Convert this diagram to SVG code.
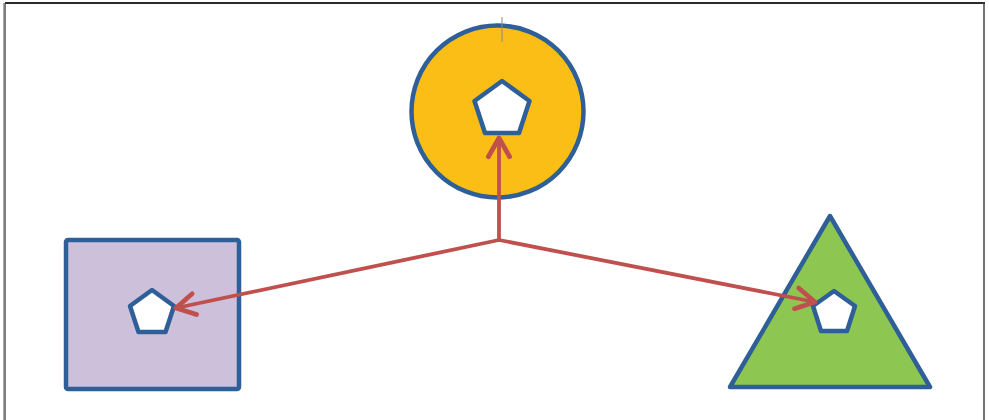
<svg xmlns="http://www.w3.org/2000/svg" width="989" height="420" viewBox="0 0 989 420">
<style>
.shape{stroke:#2f5f98;stroke-width:4.5;stroke-linejoin:round}
.pent{fill:#ffffff;stroke:#2f5f98;stroke-width:4.5;stroke-linejoin:round}
.conn{fill:none;stroke:#c0504d;stroke-width:3.8;stroke-linecap:round}
</style>
<defs>
<marker id="arr" markerUnits="userSpaceOnUse" markerWidth="30" markerHeight="30" viewBox="-20 -12 24 24" refX="0" refY="0" orient="auto">
<path d="M-15,-8.5 L0,0 L-15,8.5" fill="none" stroke="#c0504d" stroke-width="3.8" stroke-linecap="round" stroke-linejoin="round"/>
</marker>
</defs>
<rect width="989" height="420" fill="#ffffff"/>
<g id="frame" fill="none">
<line x1="5" y1="3" x2="985" y2="3" stroke="#2a2a2a" stroke-width="2"/>
<line x1="5" y1="3" x2="5" y2="420" stroke="#555" stroke-width="1.5"/>
<line x1="3.5" y1="3" x2="3.5" y2="420" stroke="#aaa" stroke-width="1"/>
<line x1="984" y1="3" x2="984" y2="420" stroke="#444" stroke-width="1.5"/>
</g>
<g id="circle-node">
<circle class="shape" cx="497.5" cy="111.5" r="86" fill="#fbbe16"/>
<line x1="502" y1="17" x2="502" y2="42" stroke="#8a8a8a" stroke-width="1"/>
<path class="pent" d="M502,81 L529.5,101 L519,133 L485,133 L474.5,101 Z"/>
</g>
<g id="square-node">
<rect class="shape" x="66" y="240" width="173" height="149" rx="2" fill="#ccc0da"/>
<path class="pent" d="M152,290 L174,306 L165.5,332 L138.5,332 L130,306 Z"/>
</g>
<g id="triangle-node">
<path class="shape" d="M830,216 L930,387 L730,387 Z" fill="#8dc650"/>
<path class="pent" d="M834,291 L855,306 L847,331 L821,331 L813,306 Z"/>
</g>
<g id="connectors">
<line class="conn" x1="499" y1="240" x2="499" y2="138" marker-end="url(#arr)"/>
<line class="conn" x1="499" y1="240" x2="176" y2="308" marker-end="url(#arr)"/>
<line class="conn" x1="499" y1="240" x2="815" y2="302" marker-end="url(#arr)"/>
</g>
</svg>
